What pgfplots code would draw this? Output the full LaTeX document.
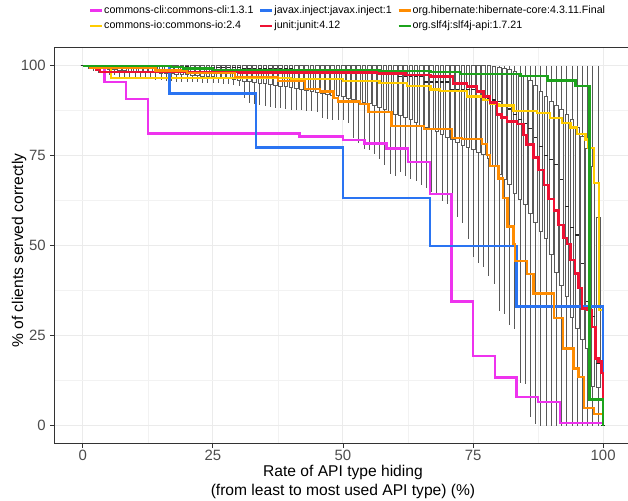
\documentclass[border=0pt]{standalone}
\usepackage{fontspec}
\setmainfont{Liberation Sans}
\usepackage{pgfplots}
\usepackage{pgfplotstable}
\pgfplotsset{compat=1.18}
\usepgfplotslibrary{statistics}

\definecolor{cMag}{HTML}{EE33EE}
\definecolor{cBlue}{HTML}{2A74F2}
\definecolor{cOrange}{HTML}{FF8C00}
\definecolor{cGold}{HTML}{FFCC00}
\definecolor{cRed}{HTML}{EE1133}
\definecolor{cGreen}{HTML}{1CA31C}

\pgfplotsset{bstyle/.style={forget plot, draw=black!65, line width=0.4pt, fill=white,
    boxplot/box extend=0.7, boxplot/whisker extend=0,
    boxplot/every median/.style={line width=0.9pt, draw=black!85}}}

\pgfplotstableread{
x lw q1 med q3 uw
0 100 100 100 100 100
1 99 99.8 100 100 100
2 98.5 99.6 100 100 100
3 98 99.4 100 100 100
4 97.8 99.2 100 100 100
5 97.5 99.0 100 100 100
6 97.3 98.9 100 100 100
7 97.0 98.8 100 100 100
8 97.0 98.7 100 100 100
9 96.8 98.6 100 100 100
10 96.5 98.5 100 100 100
11 96.5 98.4 99.8 100 100
12 96.3 98.3 99.8 100 100
13 96.2 98.2 99.8 100 100
14 96.0 98.1 99.8 100 100
15 96.0 98.0 99.8 100 100
16 95.8 97.9 99.8 100 100
17 95.8 97.8 99.8 100 100
18 95.6 97.7 99.8 100 100
19 95.6 97.6 99.8 100 100
20 95.5 97.5 99.8 100 100
21 95.5 97.4 99.5 100 100
22 95.4 97.3 99.5 100 100
23 95.3 97.2 99.5 100 100
24 95.2 97.1 99.5 100 100
25 95.3 97.0 99.5 100 100
26 95.2 96.8 99.5 100 100
27 95.0 96.6 99.5 100 100
28 94.8 96.4 99.5 100 100
29 94.6 96.2 99.5 100 100
30 94.4 96.0 99.5 100 100
31 91.0 95.8 99.2 100 100
32 89.6 95.6 99.2 100 100
33 89.5 95.4 99.2 100 100
34 89.0 95.2 99.2 100 100
35 88.7 95.0 99.2 100 100
36 88.5 94.8 99.2 100 100
37 88.3 94.6 99.2 100 100
38 88.2 94.4 99.2 100 100
39 88.0 94.2 99.2 100 100
40 87.8 94.0 99.2 100 100
41 87.7 93.7 98.8 100 100
42 87.6 93.4 98.8 100 100
43 87.5 93.1 98.8 100 100
44 87.3 92.8 98.8 100 100
45 87.2 92.5 98.8 100 100
46 85.5 92.3 98.8 100 100
47 85.2 92.1 98.8 100 100
48 85.0 91.9 98.8 100 100
49 85.0 91.7 98.8 100 100
50 85.0 91.5 98.8 100 100
51 84.0 91.1 98.5 100 100
52 80.0 90.7 98.5 100 100
53 78.5 90.3 98.5 100 100
54 77.0 89.9 98.5 100 100
55 76.5 89.5 98.5 100 100
56 75.5 89.0 98.0 100 100
57 74.0 88.4 98.0 100 100
58 72.5 87.8 98.0 100 100
59 70.0 87.2 98.0 100 100
60 69.5 86.6 98.0 100 100
61 70.5 86.2 97.0 100 100
62 69.5 85.8 97.0 100 100
63 68.5 85.0 97.0 100 100
64 68.0 84.2 97.0 100 100
65 67.0 83.6 97.0 100 100
66 66.0 83.0 95.5 100 100
67 65.0 82.5 95.5 100 100
68 64.0 81.8 95.5 100 100
69 62.5 81.0 95.5 100 100
70 61.5 80.2 95.5 100 100
71 60.0 79.5 93.5 100 100
72 58.0 78.8 93.5 100 100
73 56.3 78.0 93.5 100 100
74 52.0 77.4 93.5 100 100
75 47.0 76.8 93.5 100 100
76 45.2 76.0 92.5 100 100
77 44.2 75.3 91.5 100 100
78 41.5 74.4 91.0 100 100
79 39.5 72.0 90.5 99.8 100
80 32.0 69.8 90.0 99.5 100
81 31.0 68.4 89.0 99.2 100
82 28.0 67.0 88.0 99.0 100
83 27.0 64.5 86.5 98.5 100
84 12.0 63.0 85.0 98.0 100
85 11.5 61.5 84.0 97.0 100
86 2.5 59.0 82.5 96.0 100
87 0.5 56.5 80.0 94.5 100
88 0 54.0 77.5 93.0 100
89 0 52.0 75.0 91.5 100
90 0 47.5 74.0 90.0 100
91 0 42.5 72.5 89.0 100
92 0 39.0 68.5 88.0 100
93 0 36.0 61.0 86.5 100
94 0 30.0 55.0 85.0 100
95 0 27.0 53.0 83.0 100
96 0 24.0 45.0 80.5 100
97 0 21.5 34.4 77.0 100
98 0 11.0 30.3 72.0 100
99 0 10.8 17.3 58.0 100
100 0 0 0 0 0
}\boxdata

\pgfplotstableread{
x y
0 100
4.17 95.4
8.33 90.8
12.5 81.2
41.67 80.3
50 79.4
54.17 78.4
58.33 77.0
62.5 73.2
66.67 64.4
70.83 34.5
75 19.4
79.17 13.4
83.33 7.9
87.5 6.6
91.67 0.8
100 0
}\cli

\pgfplotstableread{
x y
0 100
5.4 96.6
40 96.3
50 95.8
57 95.2
62.3 94.3
66.8 93.4
68.7 92.9
73.8 91.5
77 90.4
78.3 89.4
80 89.0
82.8 87.5
87.3 86.8
89.8 85.5
92.1 84.1
93.7 82.8
95 81.0
96.6 79.5
97.2 77.1
98.2 67.4
99.2 32.1
100 0
}\cio

\pgfplotstableread{
x y
0 100
16.67 92.3
33.33 77.3
50 63.2
66.67 49.9
83.33 33.1
100 0
}\javax

\pgfplotstableread{
x y
0 100
2.5 99
3.3 98.3
30 98.1
57 97.8
62 97.5
66.8 97.0
71.2 95.1
73.8 94.2
75.7 92.8
77 91.4
78.3 89.8
79.6 86.4
80.5 85.6
81.5 84.5
83.4 83.8
84.7 80.8
85.3 78.1
86.6 74.5
87.6 71.0
88.6 66.8
89.5 63.0
90.5 59.8
91.4 55.8
92.4 52.1
93.1 50.5
93.7 46.0
94.6 42.3
95.3 38.2
95.9 32.6
96.9 32.1
97.9 27.5
98.5 18.7
99.1 17.8
99.7 14.6
100 0
}\junit

\pgfplotstableread{
x y
0 100
1.5 99.4
14 98.7
20 98.0
29.3 96.8
37.5 95.8
42.7 93.6
45.6 92.8
48.2 91.1
49.0 90.1
53.3 89.3
54.9 87.1
59.3 83.3
65.6 82.4
70.9 80.0
72.9 79.6
76.7 78.2
77.7 75.2
78.3 72.1
79.9 68.7
80.8 63.2
81.6 55.3
82.8 50.5
83.1 45.8
85.4 42.2
86.6 36.7
90.5 30.0
92.3 21.4
94.3 15.9
95.3 13.6
96.3 5.0
98.2 3.2
100 0
}\hib

\pgfplotstableread{
x y
0 100
17 99.7
19.3 99.2
25 98.8
57 98.6
66.8 98.2
72.5 97.7
84.1 97.2
89.3 95.9
94.7 94.3
97.4 7.3
100 0
}\slf

\begin{document}
\begin{tikzpicture}
\begin{axis}[
  scale only axis,
  width=432.8pt, height=297pt,
  xmin=-5.45, xmax=105.45, ymin=-5, ymax=105,
  xtick={0,25,50,75,100}, ytick={0,25,50,75,100},
  minor xtick={12.5,37.5,62.5,87.5}, minor ytick={12.5,37.5,62.5,87.5},
  grid=both,
  major grid style={color=black!8, line width=0.75pt},
  minor grid style={color=black!5, line width=0.4pt},
  axis line style={color=black!80, line width=0.6pt},
  tick align=outside, tick pos=left,
  major tick length=3pt, minor tick length=0pt,
  tick style={color=black!80, line width=0.6pt},
  ticklabel style={font=\fontsize{11.2}{13}\selectfont, text=black!70},
  xticklabel style={yshift=1.5pt},
  /pgf/number format/assume math mode=true,
  xlabel={Rate of API type hiding\\(from least to most used API type) (\%)},
  ylabel={\% of clients served correctly},
  label style={font=\fontsize{11.7}{14}\selectfont},
  xlabel style={at={(axis description cs:0.5,0)}, anchor=north, yshift=-16pt, align=center, inner sep=0pt},
  ylabel style={at={(axis description cs:-0.0613,0.488)}, anchor=center, inner sep=0pt},
  legend columns=3,
  legend cell align=left,
  legend image code/.code={\draw[#1] (0pt,0pt) -- (9pt,0pt);},
  legend style={draw=none, fill=none, at={(0.508,1.032)}, anchor=south,
    font=\fontsize{8}{9.6}\selectfont,
    nodes={inner sep=0.75pt, text height=6pt, text depth=2pt},
    row sep=2pt,
    /tikz/every even column/.append style={column sep=3.5pt}},
  boxplot/draw direction=y,
]
\pgfplotsinvokeforeach{0,...,100}{
  \pgfplotstablegetelem{#1}{lw}\of\boxdata \edef\vlw{\pgfplotsretval}
  \pgfplotstablegetelem{#1}{q1}\of\boxdata \edef\vqa{\pgfplotsretval}
  \pgfplotstablegetelem{#1}{med}\of\boxdata \edef\vmd{\pgfplotsretval}
  \pgfplotstablegetelem{#1}{q3}\of\boxdata \edef\vqb{\pgfplotsretval}
  \pgfplotstablegetelem{#1}{uw}\of\boxdata \edef\vuw{\pgfplotsretval}
  \edef\doplot{\noexpand\addplot[bstyle, boxplot prepared={draw position=#1,
      lower whisker=\vlw, lower quartile=\vqa, median=\vmd,
      upper quartile=\vqb, upper whisker=\vuw}] coordinates {};}
  \doplot
}
\addplot[forget plot, const plot, cMag, line width=1.8pt] table {\cli};
\addplot[forget plot, const plot, cGold, line width=1.8pt] table {\cio};
\addplot[forget plot, const plot, cBlue, line width=1.8pt] table {\javax};
\addplot[forget plot, const plot, cRed, line width=1.8pt] table {\junit};
\addplot[forget plot, const plot, cOrange, line width=1.8pt] table {\hib};
\addplot[forget plot, const plot, cGreen, line width=1.8pt] table {\slf};

\addlegendimage{cMag, line width=1.6pt}
\addlegendentry{commons-cli:commons-cli:1.3.1}
\addlegendimage{cBlue, line width=1.6pt}
\addlegendentry{javax.inject:javax.inject:1}
\addlegendimage{cOrange, line width=1.6pt}
\addlegendentry{org.hibernate:hibernate-core:4.3.11.Final}
\addlegendimage{cGold, line width=1.6pt}
\addlegendentry{commons-io:commons-io:2.4}
\addlegendimage{cRed, line width=1.6pt}
\addlegendentry{junit:junit:4.12}
\addlegendimage{cGreen, line width=1.6pt}
\addlegendentry{org.slf4j:slf4j-api:1.7.21}

\coordinate (pSW) at (rel axis cs:0,0);
\end{axis}
\pgfresetboundingbox
\useasboundingbox (pSW) ++(-40.83pt,-42.2pt) rectangle ++(471pt,375pt);
\end{tikzpicture}
\end{document}
